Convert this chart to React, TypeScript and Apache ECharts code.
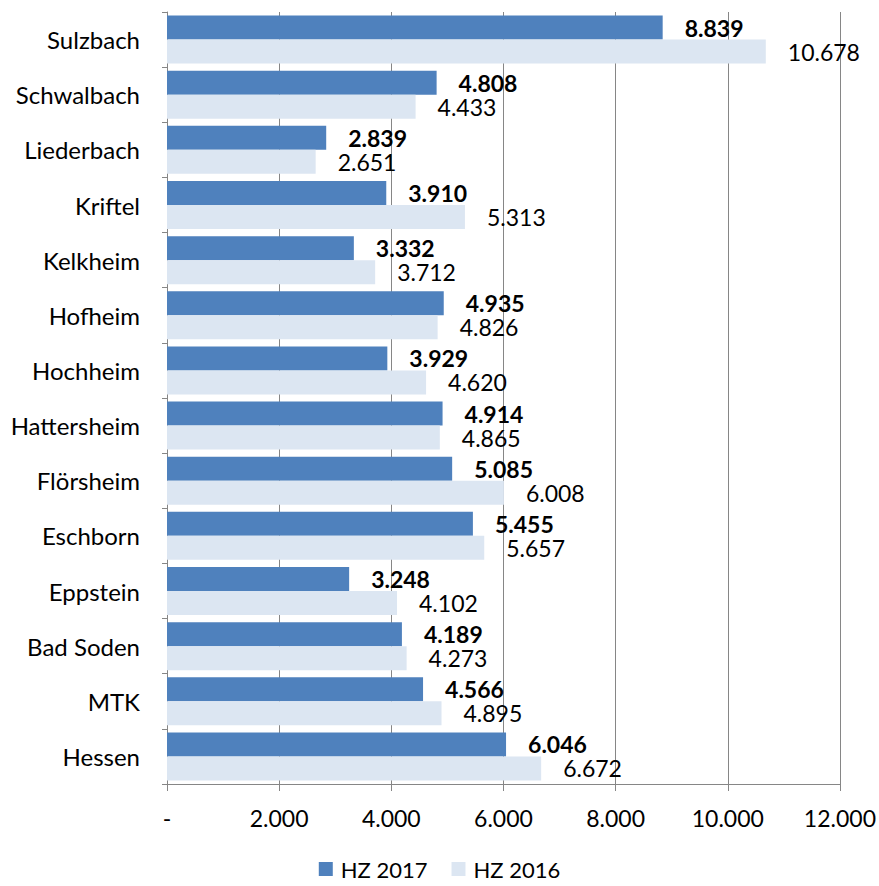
import React, { useEffect, useRef } from "react";
import * as echarts from "echarts";

const categories = [
  "Sulzbach", "Schwalbach", "Liederbach", "Kriftel", "Kelkheim", "Hofheim", "Hochheim",
  "Hattersheim", "Flörsheim", "Eschborn", "Eppstein", "Bad Soden", "MTK", "Hessen",
];
const hz2017 = [8839, 4808, 2839, 3910, 3332, 4935, 3929, 4914, 5085, 5455, 3248, 4189, 4566, 6046];
const hz2016 = [10678, 4433, 2651, 5313, 3712, 4826, 4620, 4865, 6008, 5657, 4102, 4273, 4895, 6672];
const seriesNames = ["HZ 2017", "HZ 2016"];

const fmt = (v: number) => {
  if (v === 0) return "-";
  return String(Math.round(v)).replace(/\B(?=(\d{3})+(?!\d))/g, ".");
};

const FONT = "Lato, 'Open Sans', sans-serif";

export default function App() {
  const ref = useRef<HTMLDivElement>(null);
  useEffect(() => {
    if (!ref.current) return;
    const chart = echarts.init(ref.current, null, { renderer: "svg" });
    chart.setOption({
      animation: false,
      textStyle: { fontFamily: FONT },
      grid: { left: 167, right: 39, top: 12, bottom: 102, containLabel: false },
      legend: {
        top: 858,
        left: "center",
        itemWidth: 14,
        itemHeight: 14,
        itemGap: 24,
        icon: "rect",
        padding: 0,
        textStyle: {
          fontSize: 22,
          lineHeight: 20,
          color: "#000",
          fontFamily: FONT,
          padding: [0, 0, 0, 3],
        },
        data: seriesNames,
      },
      xAxis: {
        type: "value",
        min: 0,
        max: 12000,
        interval: 2000,
        axisLine: { show: true, lineStyle: { color: "#868686" } },
        axisTick: { show: true, length: 7, lineStyle: { color: "#868686" } },
        splitLine: { show: true, lineStyle: { color: "#868686", width: 1 } },
        axisLabel: { formatter: fmt, fontSize: 23, color: "#000", margin: 22, fontFamily: FONT },
      },
      yAxis: {
        type: "category",
        inverse: true,
        data: categories,
        axisLine: { show: true, lineStyle: { color: "#868686" } },
        axisTick: { show: true, length: 5, lineStyle: { color: "#868686" } },
        axisLabel: { fontSize: 24, color: "#000", margin: 27, fontFamily: FONT },
      },
      series: [
        {
          name: seriesNames[0],
          type: "bar",
          data: hz2017,
          barGap: "0%",
          barCategoryGap: "13%",
          itemStyle: { color: "#4f81bd" },
          label: {
            show: true,
            position: "right",
            distance: 22,
            formatter: (p: any) => fmt(p.value),
            fontSize: 23,
            lineHeight: 20,
            fontWeight: "bold",
            color: "#000",
            fontFamily: FONT,
          },
        },
        {
          name: seriesNames[1],
          type: "bar",
          data: hz2016,
          barGap: "0%",
          barCategoryGap: "13%",
          itemStyle: { color: "#dce6f2" },
          label: {
            show: true,
            position: "right",
            distance: 22,
            formatter: (p: any) => fmt(p.value),
            fontSize: 23,
            lineHeight: 20,
            color: "#000",
            fontFamily: FONT,
          },
        },
      ],
    });
    return () => chart.dispose();
  }, []);
  return (
    <div
      ref={ref}
      style={{ position: "absolute", left: 0, top: 0, width: 879, height: 886 }}
    />
  );
}
